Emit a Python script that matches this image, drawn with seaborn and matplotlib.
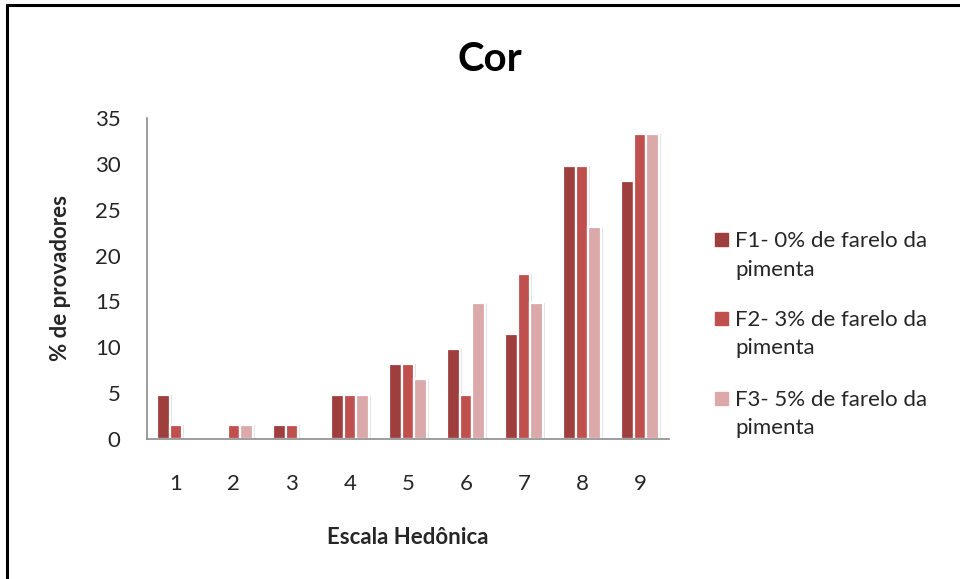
import matplotlib
matplotlib.use("Agg")
import matplotlib.pyplot as plt
from matplotlib.patches import Rectangle
from matplotlib.lines import Line2D
import seaborn as sns
import pandas as pd

# Hedonic scale scores and share of panelists (%) for each formulation
escala = [1, 2, 3, 4, 5, 6, 7, 8, 9]
f1 = [4.8, 0.0, 1.5, 4.8, 8.2, 9.8, 11.5, 29.8, 28.1]
f2 = [1.5, 1.5, 1.5, 4.8, 8.2, 4.8, 18.0, 29.8, 33.2]
f3 = [0.0, 1.5, 0.0, 4.8, 6.5, 14.8, 14.8, 23.1, 33.2]
series = ["F1- 0% de farelo da\npimenta",
          "F2- 3% de farelo da\npimenta",
          "F3- 5% de farelo da\npimenta"]
cores = ["#9E3F3E", "#C0504D", "#DBA9A9"]

df = pd.DataFrame({
    "escala": escala * 3,
    "valor": f1 + f2 + f3,
    "serie": [series[0]] * 9 + [series[1]] * 9 + [series[2]] * 9,
})

sns.set_theme(style="white")
plt.rcParams["font.family"] = ["Lato", "DejaVu Sans"]
txt = "#262626"
axis_gray = "#8C8C8C"

fig = plt.figure(figsize=(9.6, 5.79), dpi=100)
ax = fig.add_axes([0.153, 0.2418, 0.544, 0.5545])

# soft drop shadow behind the bars
sns.barplot(data=df, x="escala", y="valor", hue="serie",
            palette=["#E2E2E2"] * 3, width=0.65, dodge=True, saturation=1,
            ax=ax, legend=False, linewidth=0, zorder=1)
for p in ax.patches:
    p.set_x(p.get_x() + 0.035)

sns.barplot(data=df, x="escala", y="valor", hue="serie", palette=cores,
            width=0.65, dodge=True, saturation=1, ax=ax, legend=False,
            edgecolor="white", linewidth=1.6, zorder=2)

ax.set_ylim(0, 35)
ax.set_xlim(-0.5, 8.5)
ax.set_yticks(range(0, 36, 5))
ax.tick_params(axis="y", which="major", direction="out", length=6,
               color=axis_gray, width=1, labelsize=16, labelcolor=txt,
               pad=13)
ax.tick_params(axis="x", length=0, labelsize=16, labelcolor=txt, pad=25)
for s in ["top", "right"]:
    ax.spines[s].set_visible(False)
for s in ["left", "bottom"]:
    ax.spines[s].set_color(axis_gray)
    ax.spines[s].set_linewidth(1.2)

ax.set_xlabel("Escala Hedônica", fontsize=16, fontweight="bold",
              color=txt, labelpad=24)
ax.set_ylabel("% de provadores", fontsize=16, fontweight="bold",
              color=txt, labelpad=17)
fig.text(0.51, 0.897, "Cor", ha="center", va="center", fontsize=29,
         fontweight="bold", color="black")

# legend: colour square beside the first line of each two-line label
H = 579.0
first_baseline = [247, 326, 406]
for lab, col, yb in zip(series, cores, first_baseline):
    fig.patches.append(Rectangle((715 / 960, (H - (yb - 1)) / H), 13 / 960,
                                 13 / H, transform=fig.transFigure,
                                 color=col))
    for k, line in enumerate(lab.split("\n")):
        fig.text(735 / 960, (H - (yb + 28.5 * k)) / H, line, ha="left",
                 va="baseline", fontsize=16, color=txt)

# outer frame (left and top edges)
fig.lines.append(Line2D([0.0068, 0.0068], [0.0, 0.9914], color="black",
                        lw=2.2, transform=fig.transFigure))
fig.lines.append(Line2D([0.0068, 1.0], [0.9914, 0.9914], color="black",
                        lw=2.2, transform=fig.transFigure))

fig.savefig("out.png", dpi=100, facecolor="white")
